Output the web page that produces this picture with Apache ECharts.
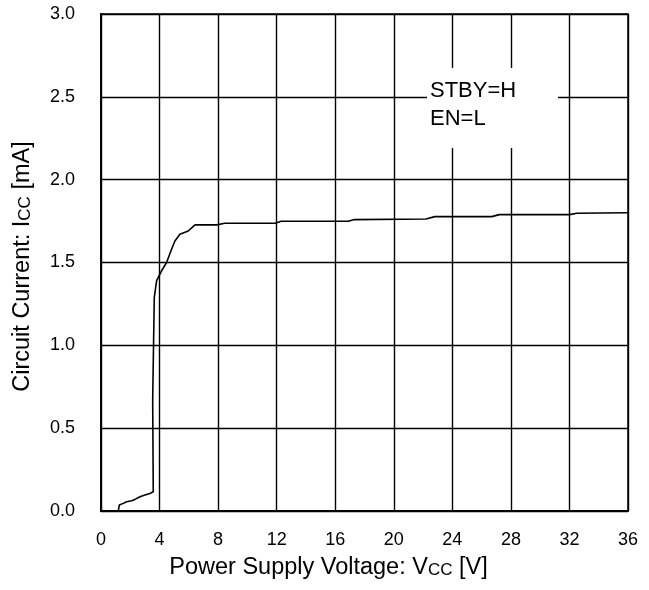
<!DOCTYPE html>
<html>
<head>
<meta charset="utf-8">
<script src="https://cdn.jsdelivr.net/npm/echarts@6/dist/echarts.min.js"></script>
<style>
html,body{margin:0;padding:0;background:#fff;}
#chart{width:649px;height:590px;}
</style>
</head>
<body>
<div id="chart"></div>
<script>
const xTicks = [0, 4, 8, 12, 16, 20, 24, 28, 32, 36];
const yTicks = [0.0, 0.5, 1.0, 1.5, 2.0, 2.5, 3.0];
const vcc = [1.18,1.25,1.52,1.75,2.09,2.32,2.66,3.00,3.34,3.57,3.53,3.64,3.80,4.14,4.48,4.82,5.05,5.39,5.96,6.42,7.90,8.46,11.9,12.3,16.9,17.3,22.2,22.8,26.7,27.2,32.0,32.5,36.0];
const icc = [0.0,0.036,0.046,0.056,0.062,0.070,0.086,0.096,0.106,0.116,0.67,1.29,1.39,1.45,1.50,1.58,1.63,1.67,1.69,1.727,1.727,1.737,1.737,1.749,1.749,1.759,1.763,1.777,1.777,1.789,1.789,1.797,1.80];
const noteLines = ['STBY=H', 'EN=L'];

const chart = echarts.init(document.getElementById('chart'), null, {renderer: 'canvas'});
const font = 'Liberation Sans, Arial, sans-serif';
chart.setOption({
  animation: false,
  backgroundColor: '#fff',
  grid: {left: 101, right: 21, top: 14, bottom: 79, show: true, borderColor: '#000', borderWidth: 1.5},
  xAxis: {
    type: 'value', min: xTicks[0], max: xTicks[xTicks.length - 1], interval: 4,
    name: 'Power Supply Voltage: V{s|CC} [V]', nameLocation: 'middle', nameGap: 45,
    nameTextStyle: {fontFamily: font, fontSize: 23.5, color: '#000', padding: [0, 72, 0, 0],
      rich: {s: {fontFamily: font, fontSize: 17, color: '#000', padding: [4, 0, 0, 0]}}},
    axisLine: {lineStyle: {color: '#000', width: 2}},
    axisTick: {show: false},
    axisLabel: {fontFamily: font, fontSize: 18, color: '#000', margin: 20},
    splitLine: {lineStyle: {color: '#000', width: 1.4}}
  },
  yAxis: {
    type: 'value', min: yTicks[0], max: yTicks[yTicks.length - 1], interval: 0.5,
    name: 'Circuit Current: I{s|CC} [mA]', nameLocation: 'middle', nameGap: 66,
    nameTextStyle: {fontFamily: font, fontSize: 23.5, color: '#000', padding: [0, 8, 0, 0],
      rich: {s: {fontFamily: font, fontSize: 17, color: '#000', padding: [4, 0, 0, 0]}}},
    axisLine: {lineStyle: {color: '#000', width: 2}},
    axisTick: {show: false},
    axisLabel: {fontFamily: font, fontSize: 18, color: '#000', margin: 26, formatter: v => v.toFixed(1)},
    splitLine: {lineStyle: {color: '#000', width: 1.4}}
  },
  series: [{
    type: 'line', showSymbol: false, symbol: 'none',
    data: vcc.map((v, i) => [v, icc[i]]),
    lineStyle: {color: '#000', width: 1.6},
    z: 5
  }],
  graphic: [
    {type: 'rect', z: 100, shape: {x: 427, y: 68, width: 131, height: 80}, style: {fill: '#fff'}},
    {type: 'text', z: 101, left: 430, top: 77, style: {text: noteLines.join('\n'), fontFamily: font, fontSize: 22, lineHeight: 28, fill: '#000'}}
  ]
});
</script>
</body>
</html>
